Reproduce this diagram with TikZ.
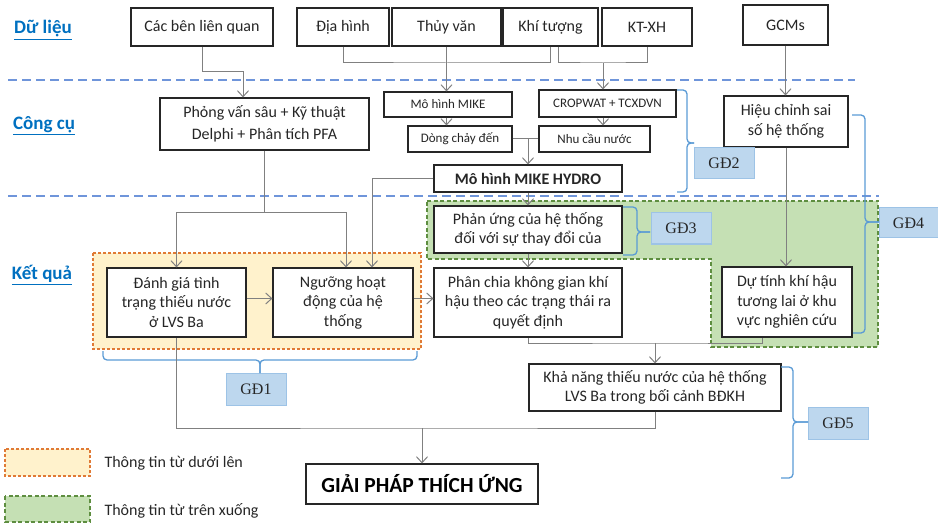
\documentclass[tikz,border=0pt]{standalone}
\usepackage{fontspec}
\setmainfont{Carlito}
\newfontfamily\tnr{Liberation Serif}
\usetikzlibrary{arrows.meta,calc}
\definecolor{boxcol}{HTML}{262626}
\definecolor{conncol}{HTML}{808080}
\definecolor{sepcol}{HTML}{6F95DA}
\definecolor{labcol}{HTML}{0070C0}
\definecolor{orfill}{HTML}{FFF2CC}
\definecolor{ordraw}{HTML}{E07A35}
\definecolor{grfill}{HTML}{C5E0B4}
\definecolor{grdraw}{HTML}{5E8E40}
\definecolor{gdfill}{HTML}{BDD7EE}
\definecolor{gddraw}{HTML}{9DC3E6}
\definecolor{bracecol}{HTML}{5B9BD5}
\tikzset{
  box/.style={draw=boxcol, line width=1.1pt, fill=white, align=center, inner sep=1pt,
    text=boxcol, font=\fontsize{16}{19.5}\selectfont},
  smallbox/.style={box, font=\fontsize{13}{15}\selectfont},
  gdbox/.style={draw=gddraw, line width=1pt, fill=gdfill, inner sep=1pt, text=boxcol,
    minimum width=60pt, minimum height=31pt, font=\tnr\fontsize{16}{18}\selectfont},
  seclab/.style={text=labcol, font=\fontsize{19}{22}\selectfont\bfseries},
  conn/.style={draw=conncol, line width=1pt},
  arr/.style={conn, -{Straight Barb[length=6pt,width=11pt]}},
  sepline/.style={draw=sepcol, line width=1.3pt, dash pattern=on 9pt off 5pt},
  bracepath/.style={draw=bracecol, line width=1.3pt, rounded corners=4pt},
  legtext/.style={anchor=west, text=boxcol, font=\fontsize{16}{19}\selectfont}
}
\begin{document}
\begin{tikzpicture}[x=1pt,y=-1pt]
\path[use as bounding box] (0,0) rectangle (938,524);

% background regions
\filldraw[fill=orfill, draw=ordraw, line width=1.3pt, dash pattern=on 3pt off 2pt]
  (93,253) rectangle (421,349);
\filldraw[fill=grfill, draw=grdraw, line width=1.3pt, dash pattern=on 4pt off 2.5pt]
  (427,201) -- (878,201) -- (878,347) -- (711,347) -- (711,259) -- (427,259) -- cycle;

% separators
\draw[sepline] (8,80) -- (855,80);
\draw[sepline] (8,196) -- (879,196);

% section labels
\node[seclab] (dl) at (43,30) {\underline{Dữ liệu}};
\node[seclab] (cc) at (44,126) {\underline{Công cụ}};
\node[seclab] (kq) at (42,275) {\underline{Kết quả}};

% data row
\node[box, minimum width=142pt, minimum height=38pt] (cac) at (202,27) {Các bên liên quan};
\node[box, minimum width=92pt, minimum height=38pt] (dia) at (343,27) {Địa hình};
\node[box, minimum width=109pt, minimum height=38pt] (thuy) at (446.5,27) {Thủy văn};
\node[box, minimum width=95pt, minimum height=38pt] (khi) at (550.5,27) {Khí tượng};
\node[box, minimum width=90pt, minimum height=38pt] (ktxh) at (647,27) {KT-XH};
\node[box, minimum width=85pt, minimum height=40pt] (gcm) at (785.5,25) {GCMs};

% tools row
\node[box, minimum width=209pt, minimum height=52pt, font=\fontsize{16}{22}\selectfont] (pv) at (264.5,124)
  {Phỏng vấn sâu + Kỹ thuật\\Delphi + Phân tích PFA};
\node[smallbox, minimum width=128pt, minimum height=25pt] (mike) at (448,104.5) {Mô hình MIKE};
\node[smallbox, minimum width=104pt, minimum height=26pt] (dong) at (460,139) {Dòng chảy đến};
\node[smallbox, minimum width=137pt, minimum height=27pt] (crop) at (607.5,103.5) {CROPWAT + TCXDVN};
\node[smallbox, minimum width=111pt, minimum height=26pt] (nhu) at (594.5,139) {Nhu cầu nước};
\node[box, minimum width=188pt, minimum height=27pt, font=\fontsize{16}{19}\selectfont\bfseries] (hydro) at (528,178.5) {Mô hình MIKE HYDRO};
\node[box, minimum width=124pt, minimum height=51pt, font=\fontsize{16}{20}\selectfont] (hieu) at (786,121.5) {Hiệu chỉnh sai\\số hệ thống};

% results row
\node[box, minimum width=139pt, minimum height=69pt] (danh) at (176.5,302.5) {Đánh giá tình\\trạng thiếu nước\\ở LVS Ba};
\node[box, minimum width=140pt, minimum height=69pt] (nguong) at (343,302.5) {Ngưỡng hoạt\\động của hệ\\thống};
\node[box, minimum width=188pt, minimum height=47pt] (phanung) at (528,229.5) {Phản ứng của hệ thống\\đối với sự thay đổi của};
\node[box, minimum width=188pt, minimum height=69pt] (phanchia) at (528,302.5) {Phân chia không gian khí\\hậu theo các trạng thái ra\\quyết định};
\node[box, minimum width=130pt, minimum height=70pt] (dutinh) at (787,302) {Dự tính khí hậu\\tương lai ở khu\\vực nghiên cứu};
\node[box, minimum width=252pt, minimum height=47pt, font=\fontsize{16}{18.5}\selectfont] (khanang) at (655,387.5) {Khả năng thiếu nước của hệ thống\\LVS Ba trong bối cảnh BĐKH};
\node[box, minimum width=232pt, minimum height=40pt, font=\fontsize{21.5}{24}\selectfont\bfseries, text=black] (giaiphap) at (422,484) {GIẢI PHÁP THÍCH ỨNG};

% stage labels
\node[gdbox, minimum height=32pt] (gd1) at (256,389) {GĐ1};
\node[gdbox] (gd2) at (724,163.5) {GĐ2};
\node[gdbox] (gd3) at (681,228.5) {GĐ3};
\node[gdbox, minimum width=59pt, minimum height=30pt] (gd4) at (908.5,223) {GĐ4};
\node[gdbox, minimum height=32pt] (gd5) at (838,423) {GĐ5};

% braces
\draw[bracepath] (677,90) -- (687,90) -- (687,143) -- (694,143);
\draw[bracepath] (677,192) -- (687,192) -- (687,143) -- (694,143);
\draw[bracepath] (623,207) -- (637,207) -- (637,232) -- (650,232);
\draw[bracepath] (623,255) -- (637,255) -- (637,232) -- (650,232);
\draw[bracepath] (852,115) -- (865,115) -- (865,222) -- (879,222);
\draw[bracepath] (853,333) -- (865,333) -- (865,222) -- (879,222);
\draw[bracepath] (781,367) -- (793,367) -- (793,422) -- (808,422);
\draw[bracepath] (781,478) -- (793,478) -- (793,422) -- (808,422);
\draw[bracepath] (103,351) -- (103,360) -- (260,360) -- (260,373);
\draw[bracepath] (417,351) -- (417,360) -- (260,360) -- (260,373);

% junction coordinates
\coordinate (j1) at (446.5,63);
\coordinate (j2) at (603,63);
\coordinate (j3) at (264.5,213);
\coordinate (j4) at (655,343);
\coordinate (j5) at (422,428);

% connectors
\draw[arr] (cac.south) -- ++(0,25) -| ([xshift=-21.5pt]pv.north);
\draw[conn] (dia.south) |- (j1) -| (khi.south);
\draw[arr] (thuy.south) -- (thuy.south |- mike.north);
\draw[conn] ([xshift=8pt]khi.south) |- (j2) -| (ktxh.south);
\draw[arr] (j2) -- (j2 |- crop.north);
\draw[arr] (mike.south -| j1) -- (j1 |- dong.north);
\draw[arr] (j2 |- crop.south) -- (j2 |- nhu.north);
\draw[conn] (dong.east) -- (nhu.west);
\draw[arr] (dong.east -| hydro.north) -- (hydro.north);
\draw[arr] (gcm.south) -- (gcm.south |- hieu.north);
\draw[arr] (hydro.south) -- (phanung.north);
\draw[arr] (hydro.west) -| ([xshift=29pt]nguong.north);
\draw[conn] (pv.south) -- (j3);
\draw[arr] (j3) -| (danh.north);
\draw[arr] (j3) -| ([xshift=3pt]nguong.north);
\draw[arr] ([yshift=4pt]danh.east) -- ([yshift=4pt]nguong.west);
\draw[arr] ([yshift=4pt]nguong.east) -- ([yshift=4pt]phanchia.west);
\draw[arr] (phanung.south) -- (phanchia.north);
\draw[arr] (hieu.south) -- (hieu.south |- dutinh.north);
\draw[conn] (phanchia.south) |- (j4) -| ([xshift=-25pt]dutinh.south);
\draw[arr] (j4) -- (khanang.north);
\draw[conn] (khanang.south) |- (j5) -| (danh.south);
\draw[arr] (j5) -- (giaiphap.north);

% legend
\filldraw[fill=orfill, draw=ordraw, line width=1.3pt, dash pattern=on 3pt off 2pt] (5,449) rectangle (90,476);
\filldraw[fill=grfill, draw=grdraw, line width=1.3pt, dash pattern=on 4pt off 2.5pt] (5,496) rectangle (90,522);
\node[legtext] (l1) at (101,463) {Thông tin từ dưới lên};
\node[legtext] (l2) at (101,511) {Thông tin từ trên xuống};
\end{tikzpicture}
\end{document}
